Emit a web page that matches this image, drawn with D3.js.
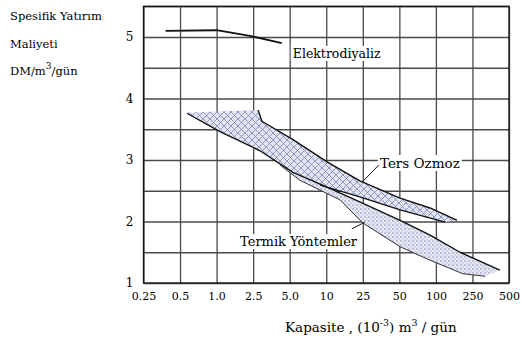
<!DOCTYPE html>
<html>
<head>
<meta charset="utf-8">
<script src="https://cdn.jsdelivr.net/npm/d3@7"></script>
<style>
  body { margin: 0; background: #fff; }
  svg { display: block; }
  svg text { font-family: "DejaVu Serif", "Liberation Serif", "Noto Serif", "Times New Roman", serif; }
</style>
</head>
<body>
<svg width="522" height="340"></svg>
<script>
// capacity axis (10^-3 m3/gün) and cost axis (DM/m3/gün)
const capTicks = [0.25, 0.5, 1, 2.5, 5, 10, 25, 50, 100, 250, 500];
const capLabels = ["0.25", "0.5", "1.0", "2.5", "5.0", "10", "25", "50", "100", "250", "500"];
const costTicks = [1, 2, 3, 4, 5];
const costGrid = [1, 1.5, 2, 2.5, 3, 3.5, 4, 4.5, 5, 5.5];

// curves: [capacity, cost]
const elektro = [[0.38, 5.1], [1.0, 5.11], [2.3, 5.02], [4.3, 4.9]];
const tersTop = [[0.57, 3.77], [1.0, 3.79], [2.75, 3.81]];
const tersUpper = [[2.75, 3.81], [2.95, 3.63], [5.32, 3.33], [10.2, 2.97], [23.2, 2.66], [50.7, 2.38], [89.5, 2.22], [170, 2.02]];
const tersLower = [[126, 1.99], [50.7, 2.19], [23.2, 2.4], [8.9, 2.59]];
const edgeA = [[0.57, 3.76], [1.09, 3.46], [2.85, 3.15], [5.32, 2.8], [10.2, 2.56], [24.8, 2.3], [50.7, 2.02], [89.5, 1.78], [183, 1.5], [420, 1.21]];
const termikLower = [[4.15, 2.92], [6.07, 2.67], [14.2, 2.35], [24.8, 1.98], [50.7, 1.59], [89.5, 1.37], [197, 1.15], [318, 1.11]];

const svg = d3.select("svg"),
  margin = { top: 5, left: 143.5, right: 13, bottom: 57 },
  width = 522 - margin.left - margin.right,
  step = width / (capTicks.length - 1);

const x = d3.scaleLog()
  .domain(capTicks)
  .range(capTicks.map((d, i) => margin.left + i * step));
const y = d3.scaleLinear().domain([1, 5.5]).range([283, 6.25]);

const defs = svg.append("defs");
const hatch = defs.append("pattern").attr("id", "hatch")
  .attr("width", 7).attr("height", 7).attr("patternUnits", "userSpaceOnUse");
hatch.append("rect").attr("width", 7).attr("height", 7).attr("fill", "#e1e4f2");
hatch.append("path").attr("d", "M0,0L7,7M7,0L0,7")
  .attr("stroke", "#7a81ae").attr("stroke-width", 0.8);
const dots = defs.append("pattern").attr("id", "dots")
  .attr("width", 4).attr("height", 4).attr("patternUnits", "userSpaceOnUse");
dots.append("rect").attr("width", 4).attr("height", 4).attr("fill", "#e6e8f5");
dots.append("circle").attr("cx", 1).attr("cy", 1).attr("r", 0.7).attr("fill", "#737aa6");
dots.append("circle").attr("cx", 3).attr("cy", 3).attr("r", 0.6).attr("fill", "#959bc1");

// grid
svg.append("g")
  .attr("transform", `translate(0,${y(1)})`)
  .call(d3.axisBottom(x).tickValues(capTicks).tickSize(-(y(1) - y(5.5))).tickFormat(""))
  .call(g => g.select(".domain").remove())
  .call(g => g.selectAll("line").attr("stroke", "#4a4a4a").attr("stroke-width", 1.3));
svg.append("g")
  .attr("transform", `translate(${margin.left},0)`)
  .call(d3.axisLeft(y).tickValues(costGrid).tickSize(-width).tickFormat(""))
  .call(g => g.select(".domain").remove())
  .call(g => g.selectAll("line").attr("stroke", "#4a4a4a").attr("stroke-width", 1.3));

const line = d3.line().x(d => x(d[0])).y(d => y(d[1]));
const closed = d3.line().x(d => x(d[0])).y(d => y(d[1])).curve(d3.curveLinearClosed);

// bands
svg.append("path")
  .attr("d", closed(edgeA.slice(3).concat(termikLower.slice().reverse())))
  .attr("fill", "url(#dots)");
svg.append("path")
  .attr("d", closed(tersTop.concat(tersUpper.slice(1), tersLower, edgeA.slice(0, 4).reverse())))
  .attr("fill", "url(#hatch)");

// edges
[[edgeA, 1.4, "#111"], [tersUpper, 1.4, "#111"], [tersLower, 1.3, "#111"],
 [termikLower, 1, "#333"], [elektro, 1.8, "#111"]].forEach(([pts, w, c]) => {
  svg.append("path")
    .attr("d", line(pts))
    .attr("fill", "none")
    .attr("stroke", c)
    .attr("stroke-width", w)
    .attr("stroke-linejoin", "round");
});

// frame
svg.append("rect")
  .attr("x", margin.left).attr("y", y(5.5))
  .attr("width", width).attr("height", y(1) - y(5.5))
  .attr("fill", "none").attr("stroke", "#111").attr("stroke-width", 1.3);

// axes labels
svg.append("g")
  .attr("transform", `translate(0,${y(1)})`)
  .call(d3.axisBottom(x).tickValues(capTicks).tickSize(0).tickPadding(9)
    .tickFormat((d, i) => capLabels[i]))
  .call(g => g.select(".domain").remove())
  .call(g => g.attr("font-family", null))
  .call(g => g.selectAll("text").attr("font-size", 11).attr("fill", "#000"));
svg.append("g")
  .attr("transform", `translate(${margin.left},0)`)
  .call(d3.axisLeft(y).tickValues(costTicks).tickSize(0).tickPadding(10).tickFormat(d3.format("d")))
  .call(g => g.select(".domain").remove())
  .call(g => g.attr("font-family", null))
  .call(g => g.selectAll("text").attr("font-size", 12).attr("fill", "#000"));

// annotations
function label(cap, cost, txt, size) {
  const g = svg.append("g");
  const t = g.append("text")
    .attr("x", x(cap)).attr("y", y(cost))
    .attr("font-size", size).attr("fill", "#000").text(txt);
  const b = t.node().getBBox();
  g.insert("rect", "text")
    .attr("x", b.x - 2).attr("y", b.y).attr("width", b.width + 4).attr("height", b.height)
    .attr("fill", "#fff");
}
label(5.3, 4.66, "Elektrodiyaliz", 12.5);
label(34.6, 2.87, "Ters Ozmoz", 13.5);
label(1.8, 1.6, "Termik Yöntemler", 13);

const pointers = [[[24.6, 2.64], [33.9, 2.92]], [[19.0, 1.88], [26, 1.99]]];
pointers.forEach(p => {
  svg.append("path").attr("d", line(p))
    .attr("stroke", "#111").attr("stroke-width", 1).attr("fill", "none");
});

// axis titles
const yt = svg.append("text").attr("font-size", 11.5).attr("fill", "#000");
yt.append("tspan").attr("x", 10).attr("y", 20).text("Spesifik Yatırım");
yt.append("tspan").attr("x", 10).attr("y", 48).text("Maliyeti");
yt.append("tspan").attr("x", 10).attr("y", 75).text("DM/m");
yt.append("tspan").attr("font-size", 9).attr("dy", -6).text("3");
yt.append("tspan").attr("dy", 6).text("/gün");

const xt = svg.append("text").attr("x", 285).attr("y", 332).attr("font-size", 13.5).attr("fill", "#000");
xt.append("tspan").text("Kapasite , (10");
xt.append("tspan").attr("font-size", 9.5).attr("dy", -6).text("-3");
xt.append("tspan").attr("dy", 6).text(") m");
xt.append("tspan").attr("font-size", 9.5).attr("dy", -6).text("3");
xt.append("tspan").attr("dy", 6).text(" / gün");
</script>
</body>
</html>
